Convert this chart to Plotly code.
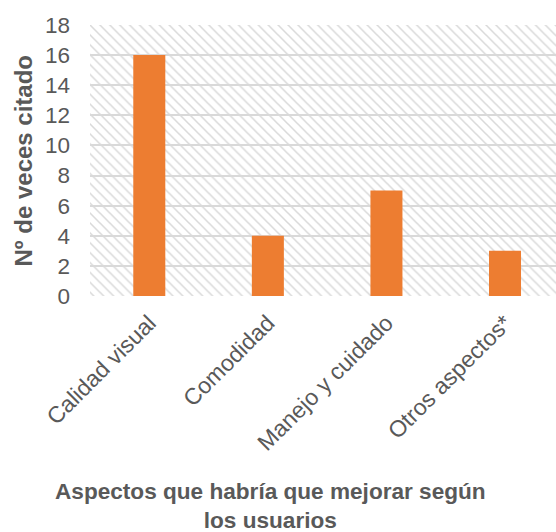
import plotly.graph_objects as go

categories = ["Calidad visual", "Comodidad", "Manejo y cuidado", "Otros aspectos*"]
values = [16, 4, 7, 3]
y_ticks = [0, 2, 4, 6, 8, 10, 12, 14, 16, 18]

x_range = [-0.5, 3.43]
y_range = [0, 18]
xpos = list(range(len(categories)))

FONT = "Liberation Sans, Arial, sans-serif"
GREY = "#595959"

fig = go.Figure()
# hatched plot-area background
fig.add_trace(go.Bar(
    x=[(x_range[0] + x_range[1]) / 2], y=[y_range[1]], width=[x_range[1] - x_range[0]],
    marker=dict(color="rgba(0,0,0,0)", line=dict(width=0),
                pattern=dict(shape="\\", size=7, solidity=0.22, fgcolor="#d9d9d9",
                             bgcolor="rgba(255,255,255,0)", fillmode="replace")),
    hoverinfo="skip", showlegend=False,
))
fig.add_trace(go.Bar(
    x=xpos, y=values, width=0.27,
    marker=dict(color="#ED7D31", line=dict(width=0)),
    showlegend=False,
))

fig.update_layout(
    width=556, height=532,
    margin=dict(l=90, r=0, t=25, b=236),
    barmode="overlay",
    plot_bgcolor="white", paper_bgcolor="white",
    font=dict(family=FONT, color=GREY),
    xaxis=dict(range=x_range, tickvals=xpos, ticktext=categories, tickangle=-45,
               tickfont=dict(size=23, color=GREY), showgrid=False, zeroline=False,
               showline=False, ticklabelstandoff=8, fixedrange=True),
    yaxis=dict(range=y_range, tickvals=y_ticks, tickfont=dict(size=22.5, color=GREY),
               showgrid=True, gridcolor="#d9d9d9", gridwidth=2, zeroline=False,
               showline=False, ticklabelstandoff=19, fixedrange=True),
    annotations=[
        dict(text="<b>Nº de veces citado</b>", textangle=-90, xref="paper", yref="paper",
             x=(23 - 90) / 466, y=0.5, xanchor="center", yanchor="middle", showarrow=False,
             font=dict(size=24, color=GREY, family=FONT)),
        dict(text="<b>Aspectos que habría que mejorar según<br>los usuarios</b>",
             xref="paper", yref="paper", x=(270 - 90) / 466, y=(296 - 506) / 271,
             xanchor="center", yanchor="middle", showarrow=False,
             font=dict(size=22.6, color=GREY, family=FONT)),
    ],
)

fig.write_html("out.html")
